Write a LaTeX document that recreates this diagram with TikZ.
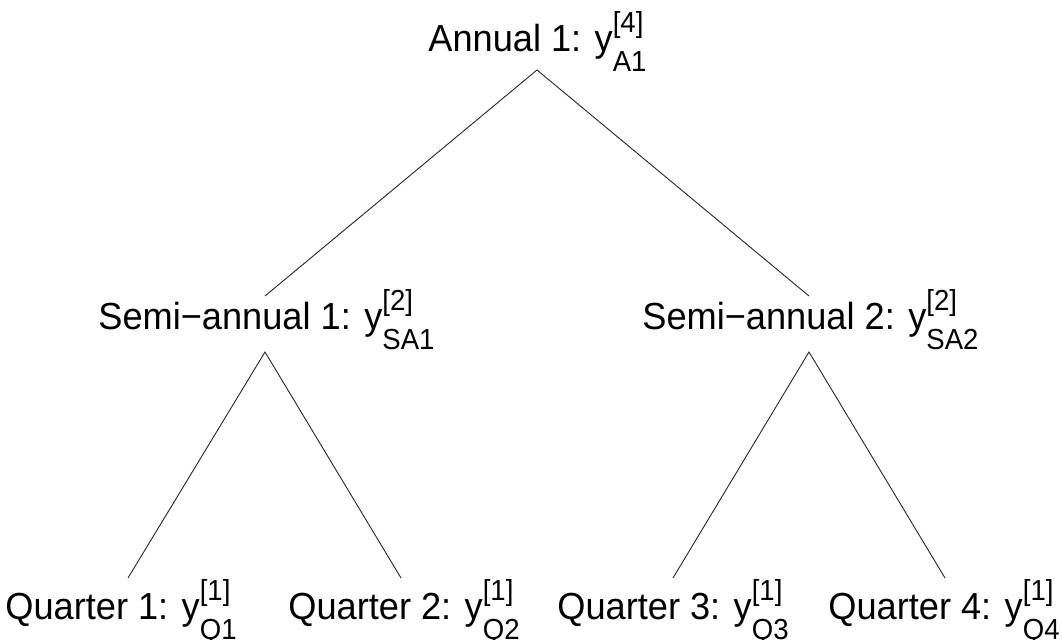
\documentclass[tikz,border=0pt]{standalone}
\usepackage{fontspec}
\setmainfont[FakeStretch=0.96]{Liberation Sans}
\newfontfamily\scrfont[FakeStretch=0.95]{Liberation Sans}
\newcommand{\mainsz}{\fontsize{18.85pt}{22pt}\selectfont}
\newcommand{\scrsz}{\scrfont\fontsize{14.5pt}{17pt}\selectfont}
\newcommand{\ysc}[2]{y\makebox[0pt][l]{\raisebox{9.5pt}{\scrsz #1}}\raisebox{-10pt}{\scrsz #2}}
\tikzset{
  lab/.style={anchor=base west, inner sep=0pt, font=\mainsz, text=black},
  edge/.style={draw=black!85, line width=0.45pt}
}
\begin{document}
\begin{tikzpicture}[x=0.5pt,y=-0.5pt]
\useasboundingbox (0,0) rectangle (1062,640);
\node[lab] (A) at (428,52) {Annual 1: \ysc{[4]}{A1}};
\node[lab] (S1) at (98,330) {Semi−annual 1: \ysc{[2]}{SA1}};
\node[lab] (S2) at (642,330) {Semi−annual 2: \ysc{[2]}{SA2}};
\node[lab] (Q1) at (5,620) {Quarter 1: \ysc{[1]}{Q1}};
\node[lab] (Q2) at (288,620) {Quarter 2: \ysc{[1]}{Q2}};
\node[lab] (Q3) at (557,620) {Quarter 3: \ysc{[1]}{Q3}};
\node[lab] (Q4) at (828,620) {Quarter 4: \ysc{[1]}{Q4}};
\coordinate (Ab) at (537,70);
\coordinate (S1t) at (265,296);
\coordinate (S1b) at (265,352);
\coordinate (S2t) at (809,296);
\coordinate (S2b) at (809,352);
\coordinate (Q1t) at (128,578);
\coordinate (Q2t) at (401,578);
\coordinate (Q3t) at (673,578);
\coordinate (Q4t) at (945,578);
\draw[edge] (S1t) -- (Ab) -- (S2t);
\draw[edge] (Q1t) -- (S1b) -- (Q2t);
\draw[edge] (Q3t) -- (S2b) -- (Q4t);
\end{tikzpicture}
\end{document}
